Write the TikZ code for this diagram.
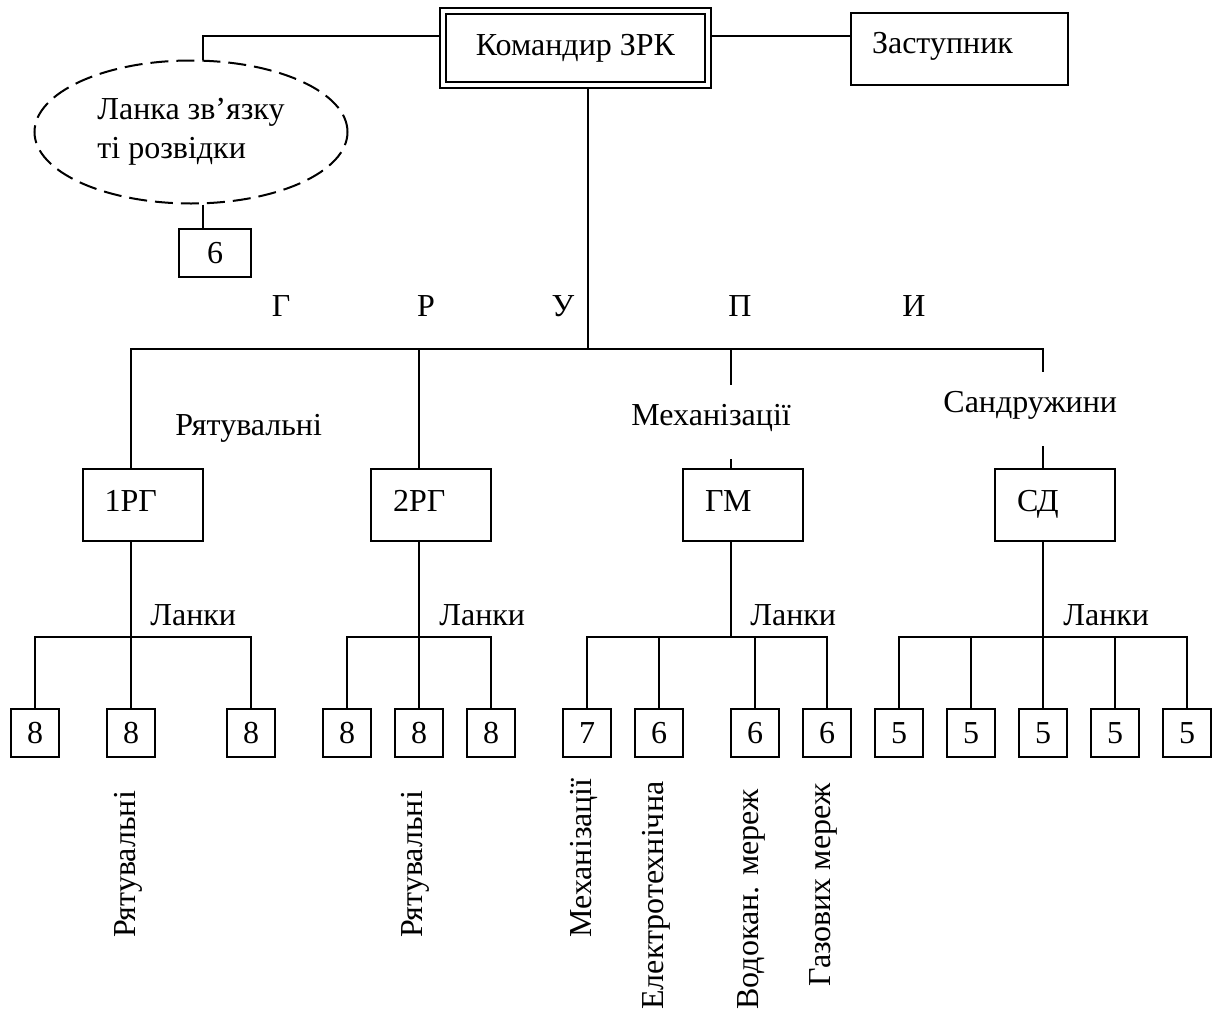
\documentclass[tikz,border=0pt]{standalone}
\usepackage{fontspec}
\setmainfont{Liberation Serif}
\usepackage{tikz}
\usetikzlibrary{shapes.geometric}

\begin{document}
\begin{tikzpicture}[x=0.5pt, y=-0.5pt, font=\fontsize{16}{19.5}\selectfont]
    \tikzset{unit/.style = {shape=rectangle, draw, line width=1pt}}
    \tikzset{group/.style = {unit, minimum width=60pt, minimum height=36pt, inner xsep=11pt,
        text width=38pt, align=left, text height=11pt, text depth=5pt}}
    \tikzset{cell/.style = {unit, minimum width=24pt, minimum height=24pt, inner sep=0pt}}
    \tikzset{lbl/.style = {inner sep=0pt, anchor=base west}}
    \tikzset{gaplbl/.style = {lbl, text height=20pt, text depth=17pt}}
    \tikzset{vlbl/.style = {lbl, rotate=90}}
    \tikzset{link/.style = {line width=1pt}}

    \useasboundingbox (0,0) rectangle (1213,1012);

    \node[unit, double, double distance=2pt, outer sep=2pt, minimum width=132.5pt, minimum height=37pt,
        text height=11pt, text depth=4pt] (cmd) at (575.5,48) {Командир ЗРК};
    \node[unit, minimum width=108.5pt, minimum height=36pt, inner xsep=10.5pt, text width=87.5pt,
        align=left, text height=11pt, text depth=7pt] (deputy) at (959.5,49) {Заступник};
    \node[shape=ellipse, draw, line width=1pt, dash pattern=on 9pt off 4pt, minimum width=156.5pt,
        minimum height=71.5pt, align=left] (comms) at (191,132) {Ланка зв’язку\\ті розвідки};
    \node[cell, minimum width=36pt] (b6) at (215,253) {6};

    \node[lbl, anchor=base] (lg) at (281,316) {Г};
    \node[lbl, anchor=base] (lr) at (426,316) {Р};
    \node[lbl, anchor=base] (lu) at (563,316) {У};
    \node[lbl, anchor=base] (lp) at (740,316) {П};
    \node[lbl, anchor=base] (li) at (914,316) {И};

    \node[lbl] (rescue) at (175,435) {Рятувальні};
    \node[gaplbl] (mech) at (631,425) {Механізації};
    \node[gaplbl] (sandr) at (943,412) {Сандружини};

    \node[group] (rg1) at (142.5,505) {1РГ};
    \node[group] (rg2) at (431,505) {2РГ};
    \node[group] (gm) at (743,505) {ГМ};
    \node[group] (sd) at (1055,505) {СД};

    \node[lbl] (lk1) at (150,625) {Ланки};
    \node[lbl] (lk2) at (439,625) {Ланки};
    \node[lbl] (lk3) at (750,625) {Ланки};
    \node[lbl] (lk4) at (1063,625) {Ланки};

    \node[cell] (r11) at (35,733) {8};
    \node[cell] (r12) at (131,733) {8};
    \node[cell] (r13) at (251,733) {8};
    \node[cell] (r21) at (347,733) {8};
    \node[cell] (r22) at (419,733) {8};
    \node[cell] (r23) at (491,733) {8};
    \node[cell] (m1) at (587,733) {7};
    \node[cell] (m2) at (659,733) {6};
    \node[cell] (m3) at (755,733) {6};
    \node[cell] (m4) at (827,733) {6};
    \node[cell] (s1) at (899,733) {5};
    \node[cell] (s2) at (971,733) {5};
    \node[cell] (s3) at (1043,733) {5};
    \node[cell] (s4) at (1115,733) {5};
    \node[cell] (s5) at (1187,733) {5};

    \node[vlbl] (v1) at (135,938) {Рятувальні};
    \node[vlbl] (v2) at (422,938) {Рятувальні};
    \node[vlbl] (v3) at (591,938) {Механізації};
    \node[vlbl] (v4) at (663,1010) {Електротехнічна};
    \node[vlbl] (v5) at (758,1010) {Водокан. мереж};
    \node[vlbl] (v6) at (830,987) {Газових мереж};

    % levels of the two buses
    \coordinate (busline) at (0,349);
    \coordinate (lev) at (0,637);
    \coordinate (cl) at ([yshift=6pt]cmd.west);
    \coordinate (cr) at ([yshift=6pt]cmd.east);
    \coordinate (cm) at ([xshift=6pt]cmd.south);
    \coordinate (cn) at ([xshift=6pt]comms.north);
    \coordinate (cs) at ([xshift=6pt]comms.south);
    \coordinate (st1) at ([xshift=-6pt]rg1.north);
    \coordinate (st2) at ([xshift=-6pt]rg2.north);
    \coordinate (st3) at ([xshift=-6pt]gm.north);
    \coordinate (st4) at ([xshift=-6pt]sd.north);

    \draw[link] (cl) -| (cn);
    \draw[link] (cs) -- (cs |- b6.north);
    \draw[link] (cr) -- (cr -| deputy.west);
    \draw[link] (cm) -- (cm |- busline);

    \draw[link] (st1) |- (st4 |- busline) -- (st4 |- sandr.north);
    \draw[link] (st2) -- (st2 |- busline);
    \draw[link] (st3 |- busline) -- (st3 |- mech.north);
    \draw[link] (st3 |- mech.south) -- (st3);
    \draw[link] (st4 |- sandr.south) -- (st4);

    \draw[link] (rg1.south -| r12) -- (r12.north);
    \draw[link] (r11.north) |- (r13.north |- lev) -- (r13.north);

    \draw[link] (rg2.south -| r22) -- (r22.north);
    \draw[link] (r21.north) |- (r23.north |- lev) -- (r23.north);

    \draw[link] (gm.south -| st3) -- (st3 |- lev);
    \draw[link] (m1.north) |- (m4.north |- lev) -- (m4.north);
    \draw[link] (m2.north) -- (m2.north |- lev);
    \draw[link] (m3.north) -- (m3.north |- lev);

    \draw[link] (sd.south -| s3) -- (s3.north);
    \draw[link] (s1.north) |- (s5.north |- lev) -- (s5.north);
    \draw[link] (s2.north) -- (s2.north |- lev);
    \draw[link] (s4.north) -- (s4.north |- lev);
  \end{tikzpicture}
\end{document}
